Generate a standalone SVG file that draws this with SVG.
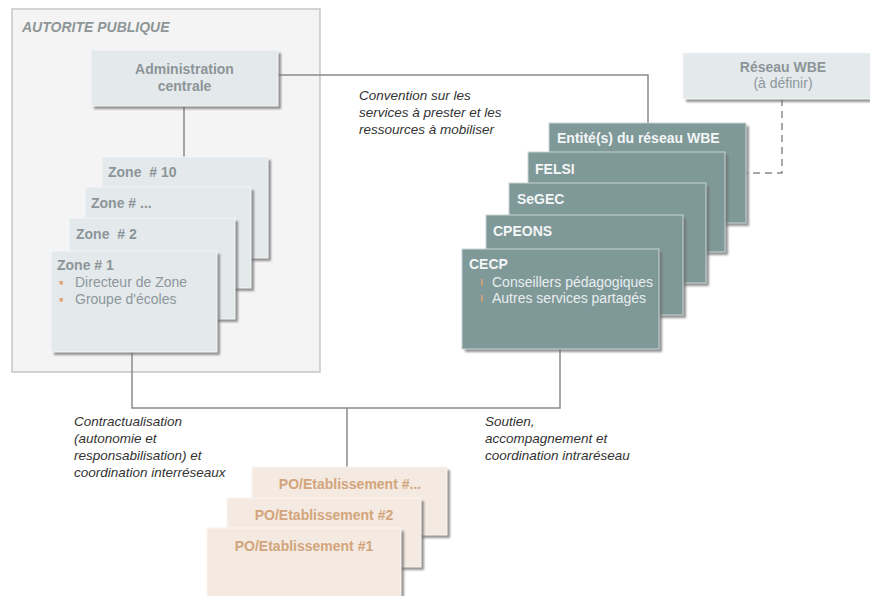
<svg xmlns="http://www.w3.org/2000/svg" width="870" height="596" viewBox="0 0 870 596">
  <defs>
    <filter id="sh" x="-10%" y="-10%" width="130%" height="130%">
      <feGaussianBlur stdDeviation="1"/>
    </filter>
    <style>
      text { font-family: "Liberation Sans", Arial, sans-serif; }
      .shadow { fill: #6f6f6f; opacity: 0.75; filter: url(#sh); }
      .zone { fill: #e4e9ec; stroke: #f4f6f7; stroke-width: 1; }
      .net { fill: #7f9898; stroke: #c9d6d6; stroke-width: 1; }
      .po { fill: #f4eae1; stroke: #faf4ef; stroke-width: 1; }
      .grayTitle { fill: #8c9598; font-size: 14px; font-weight: bold; }
      .grayText { fill: #8d979b; font-size: 14px; }
      .netTitle { fill: #f3f6f6; font-size: 14px; font-weight: bold; }
      .netText { fill: #e8eeee; font-size: 14px; }
      .poText { fill: #d2a57c; font-size: 14px; font-weight: bold; text-anchor: middle; }
      .label { fill: #333333; font-size: 13.5px; font-style: italic; }
      .bullet { fill: #e3a577; }
      .conn { fill: none; stroke: #8a8a8a; stroke-width: 1.5; }
      .dash { fill: none; stroke: #8a8a8a; stroke-width: 1.5; stroke-dasharray: 7 5; }
    </style>
  </defs>

  <g id="autorite-publique">
    <rect x="12" y="9" width="308" height="363" fill="#f4f4f4" stroke="#c6c6c6" stroke-width="1.5"/>
    <text x="22" y="32" font-size="14" font-weight="bold" font-style="italic" fill="#8e9698">AUTORITE PUBLIQUE</text>
  </g>

  <g id="connectors">
    <path class="conn" d="M184 106 V157"/>
    <path class="conn" d="M278 75 H648 V123"/>
    <path class="conn" d="M132 352 V408 H560 V349"/>
    <path class="conn" d="M347 408 V467"/>
    <path class="dash" d="M782 99 V173 H745"/>
  </g>

  <g id="administration-centrale">
    <rect class="shadow" x="94" y="53" width="187" height="56"/>
    <rect class="zone" x="91" y="50" width="187" height="56"/>
    <text class="grayTitle" x="184.5" y="74" text-anchor="middle">Administration</text>
    <text class="grayTitle" x="184.5" y="91" text-anchor="middle">centrale</text>
  </g>

  <g id="reseau-wbe">
    <rect class="shadow" x="686" y="56" width="200" height="46"/>
    <rect class="zone" x="683" y="53" width="200" height="46"/>
    <text class="grayTitle" x="783" y="72" text-anchor="middle">Réseau WBE</text>
    <text class="grayText" x="783" y="88" text-anchor="middle">(à définir)</text>
  </g>

  <g id="zone-10">
    <rect class="shadow" x="105" y="160" width="166" height="101"/>
    <rect class="zone" x="102" y="157" width="166" height="101"/>
    <text class="grayTitle" x="108" y="177" xml:space="preserve">Zone  # 10</text>
  </g>
  <g id="zone-n">
    <rect class="shadow" x="88" y="190" width="166" height="101"/>
    <rect class="zone" x="85" y="187" width="166" height="101"/>
    <text class="grayTitle" x="91" y="208">Zone # ...</text>
  </g>
  <g id="zone-2">
    <rect class="shadow" x="72" y="221" width="166" height="101"/>
    <rect class="zone" x="69" y="218" width="166" height="101"/>
    <text class="grayTitle" x="76" y="239" xml:space="preserve">Zone  # 2</text>
  </g>
  <g id="zone-1">
    <rect class="shadow" x="54" y="254" width="166" height="101"/>
    <rect class="zone" x="51" y="251" width="166" height="101"/>
    <text class="grayTitle" x="57" y="270">Zone # 1</text>
    <rect class="bullet" x="59.5" y="281" width="3.5" height="3.5"/>
    <text class="grayText" x="75" y="287">Directeur de Zone</text>
    <rect class="bullet" x="59.5" y="298" width="3.5" height="3.5"/>
    <text class="grayText" x="75" y="304">Groupe d'écoles</text>
  </g>

  <g id="entites-wbe">
    <rect class="shadow" x="552" y="126" width="197" height="100"/>
    <rect class="net" x="549" y="123" width="197" height="100"/>
    <text class="netTitle" x="557" y="143">Entité(s) du réseau WBE</text>
  </g>
  <g id="felsi">
    <rect class="shadow" x="531" y="155" width="197" height="100"/>
    <rect class="net" x="528" y="152" width="197" height="100"/>
    <text class="netTitle" x="535" y="174">FELSI</text>
  </g>
  <g id="segec">
    <rect class="shadow" x="512" y="186" width="197" height="100"/>
    <rect class="net" x="509" y="183" width="197" height="100"/>
    <text class="netTitle" x="517" y="204">SeGEC</text>
  </g>
  <g id="cpeons">
    <rect class="shadow" x="489" y="218" width="197" height="100"/>
    <rect class="net" x="486" y="215" width="197" height="100"/>
    <text class="netTitle" x="493" y="236">CPEONS</text>
  </g>
  <g id="cecp">
    <rect class="shadow" x="465" y="252" width="197" height="100"/>
    <rect class="net" x="462" y="249" width="197" height="100"/>
    <text class="netTitle" x="469" y="269">CECP</text>
    <rect class="bullet" x="481" y="279" width="2" height="7" opacity="0.7"/>
    <text class="netText" x="492" y="287">Conseillers pédagogiques</text>
    <rect class="bullet" x="481" y="295" width="2" height="7" opacity="0.7"/>
    <text class="netText" x="492" y="303">Autres services partagés</text>
  </g>

  <g id="label-convention">
    <text class="label" x="359" y="100">Convention sur les</text>
    <text class="label" x="359" y="117">services à prester et les</text>
    <text class="label" x="359" y="134">ressources à mobiliser</text>
  </g>
  <g id="label-contractualisation">
    <text class="label" x="74" y="426">Contractualisation</text>
    <text class="label" x="74" y="443">(autonomie et</text>
    <text class="label" x="74" y="460">responsabilisation) et</text>
    <text class="label" x="74" y="477">coordination interréseaux</text>
  </g>
  <g id="label-soutien">
    <text class="label" x="485" y="426">Soutien,</text>
    <text class="label" x="485" y="443">accompagnement et</text>
    <text class="label" x="485" y="460">coordination intraréseau</text>
  </g>

  <g id="po-n">
    <rect class="shadow" x="255" y="470" width="195" height="68"/>
    <rect class="po" x="252" y="467" width="195" height="68"/>
    <text class="poText" x="350" y="489">PO/Etablissement #...</text>
  </g>
  <g id="po-2">
    <rect class="shadow" x="230" y="501" width="194" height="69"/>
    <rect class="po" x="227" y="498" width="194" height="69"/>
    <text class="poText" x="324" y="520">PO/Etablissement #2</text>
  </g>
  <g id="po-1">
    <rect class="shadow" x="210" y="531" width="194" height="72"/>
    <rect class="po" x="207" y="528" width="194" height="72"/>
    <text class="poText" x="304" y="551">PO/Etablissement #1</text>
  </g>
</svg>
